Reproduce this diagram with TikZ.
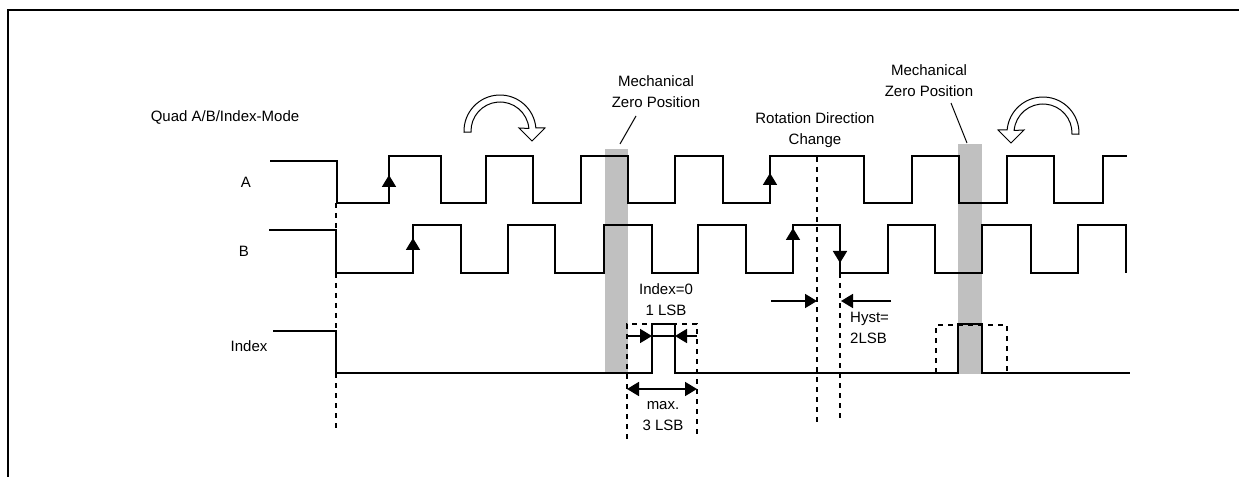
\documentclass[tikz,border=0pt]{standalone}
\usepackage{fontspec}
\setmainfont{Liberation Sans}
\usepackage{tikz}
\usetikzlibrary{arrows.meta,positioning,calc}
\definecolor{zerogray}{RGB}{192,192,192}

\begin{document}
\begin{tikzpicture}[x=1bp,y=1bp,yscale=-1,
        sig/.style={line width=1.8bp},
        dashline/.style={line width=1.8bp, dash pattern=on 5bp off 5bp},
        arr/.style={-{Triangle[length=12bp,width=14bp]}, line width=1.8bp},
        dblarr/.style={{Triangle[length=12bp,width=14bp]}-{Triangle[length=12bp,width=14bp]}, line width=1.8bp},
        zerobar/.style={fill=zerogray, draw=none},
        rotarrow/.style={draw, fill=white, line width=1bp},
        leader/.style={line width=1bp},
        lbl/.style={inner sep=0pt, align=center, font=\fontsize{15bp}{21bp}\selectfont}
    ]
        \useasboundingbox (0,0) rectangle (1239,477);

        % Frame
        \draw[line width=2.5bp] (8,477) -- (8,10) -- (1239,10);

        % Mechanical zero bars
        \fill[zerobar] (605,149) rectangle (628,373);
        \fill[zerobar] (958,144) rectangle (982,374);

        % Labels
        \node[lbl] (title) at (225,117) {Quad A/B/Index-Mode};
        \node[lbl] (labA) at (246,182) {A};
        \node[lbl] (labB) at (244,251) {B};
        \node[lbl] (labIdx) at (249,346) {Index};
        \node[lbl] (mech1) at (656,92) {Mechanical\\Zero Position};
        \node[lbl] (mech2) at (929,81) {Mechanical\\Zero Position};
        \node[lbl] (dirchg) at (815,130) {Rotation Direction\\Change};
        \node[lbl] (idx0) at (666,300) {Index=0\\1 LSB};
        \node[lbl] (max3) at (663,416) {max.\\3 LSB};
        \node[lbl, align=left, anchor=west] (hyst) at (850,328) {Hyst=\\2LSB};

        % Leaders to zero bars
        \draw[leader] (636,116) -- (620,144);
        \draw[leader] (951,103) -- (967,143);

        % Signal A
        \draw[sig] (270,161) -| (337,203) -| (389,156) -| (441,203) -| (486,156) -| (533,203)
            -| (581,156) -| (628,203) -| (675,156) -| (723,203) -| (770,156) -| (864,203)
            -| (912,156) -| (959,203) -| (1007,156) -| (1054,203) -| (1103,156) -- (1127,156);

        % Signal B
        \draw[sig] (269,230) -| (336,273) -| (413,225) -| (461,273) -| (508,225) -| (555,273)
            -| (604,225) -| (652,273) -| (698,225) -| (746,273) -| (793,225) -| (840,273)
            -| (888,225) -| (935,273) -| (982,225) -| (1031,273) -| (1078,225) -| (1126,273);

        % Index
        \draw[sig] (273,331) -| (336,373) -| (652,324) -| (675,373) -| (958,324) -| (982,373) -- (1130,373);

        % Edge markers
        \draw[arr] (389,203) -- (389,175);
        \draw[arr] (413,273) -- (413,238);
        \draw[arr] (770,203) -- (770,173);
        \draw[arr] (793,273) -- (793,228);
        \draw[arr] (840,225) -- (840,263);

        % Start line
        \draw[dashline] (336,203) -- (336,430);

        % Index window 1
        \draw[dashline] (627,439) -- (627,324) -- (697,324) -- (697,439);
        \coordinate (w1l) at (627,336);
        \coordinate (w1r) at (697,336);
        \coordinate (p1l) at (652,336);
        \coordinate (p1r) at (675,336);
        \draw[arr] (w1l) -- (p1l);
        \draw[arr] (w1r) -- (p1r);
        \draw[sig] (p1l) -- (p1r);
        \coordinate (m3l) at (627,389);
        \coordinate (m3r) at (697,389);
        \draw[dblarr] (m3l) -- (m3r);

        % Index window 2
        \draw[dashline] (936,373) -- (936,325) -- (1007,325) -- (1007,373);

        % Direction change
        \draw[dashline] (817,157) -- (817,422);
        \draw[dashline] (840,273) -- (840,422);
        \coordinate (hy1) at (817,301);
        \coordinate (hy2) at (841,301);
        \coordinate (hy1s) at (771,301);
        \coordinate (hy2s) at (891,301);
        \draw[arr] (hy1s) -- (hy1);
        \draw[arr] (hy2s) -- (hy2);

        % Rotation arrows
        \draw[rotarrow] ($(500,131)+(178:36)$) arc[start angle=178, end angle=355, radius=36]
            -- (545,128) -- (532,141) -- (519,128) -- ($(500,131)+(355:29)$)
            arc[start angle=355, end angle=178, radius=29] -- cycle;
        \draw[rotarrow] ($(1043,133)+(2:36)$) arc[start angle=2, end angle=-175, radius=36]
            -- (998,130) -- (1011,143) -- (1024,130) -- ($(1043,133)+(-175:29)$)
            arc[start angle=-175, end angle=2, radius=29] -- cycle;
    \end{tikzpicture}
\end{document}
